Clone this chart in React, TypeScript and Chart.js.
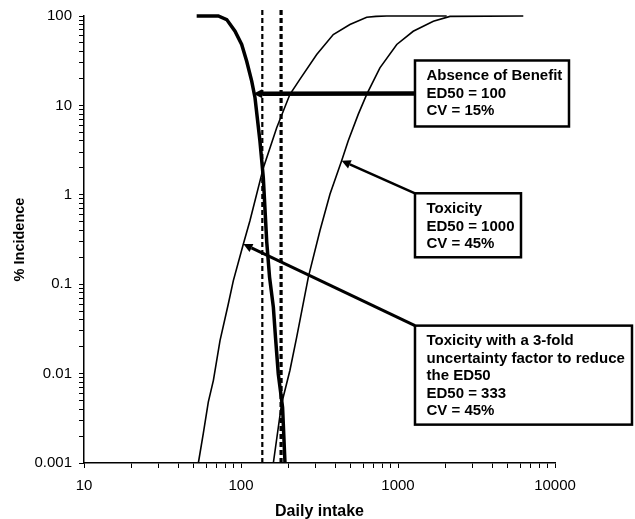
import React, { useEffect, useRef } from 'react';
import { Chart, registerables } from 'chart.js';

Chart.register(...registerables);

// Absence of Benefit (ED50 = 100, CV = 15%)
const benefitX = [52.2, 71.7, 81.1, 91.6, 101, 108.7, 117, 122.8, 132, 138.7, 145.8, 152, 160.7, 166, 172.8, 184, 190.6];
const benefitY = [100, 100, 91.2, 67.5, 48.0, 31.2, 18.7, 12.2, 4.0, 1.56, 0.3, 0.12, 0.0555, 0.025, 0.0099, 0.0042, 0.001];

// Toxicity with 3-fold uncertainty factor (ED50 = 333, CV = 45%)
const tox333X = [53.5, 57.5, 61.9, 66.7, 73.5, 83, 89.3, 103.5, 114, 138.7, 168.8, 205, 237.6, 303.5, 387, 494, 632, 725, 847, 2042];
const tox333Y = [0.001, 0.00213, 0.0048, 0.0084, 0.0234, 0.06, 0.109, 0.281, 0.512, 2.0, 5.62, 13.3, 19.7, 37.1, 62, 80.2, 96.7, 99, 100, 100];

// Toxicity (ED50 = 1000, CV = 45%)
const tox1000X = [160.7, 181.5, 205, 226.5, 268.5, 318.5, 369, 437.5, 482, 558, 632, 767, 982, 1250, 1679, 2143, 6281];
const tox1000Y = [0.001, 0.00463, 0.0109, 0.0257, 0.12, 0.398, 1.02, 2.41, 4.03, 7.94, 13.3, 26.3, 48.0, 67.5, 87.3, 99, 100];

// Vertical dashed reference lines (daily intake)
const dashedLineX = [136.7, 180];
const dashedLineSpan = [0.001, 126];

// Axis tick labels
const xTickLabels = [10, 100, 1000, 10000];
const yTickLabels = [0.001, 0.01, 0.1, 1, 10, 100];

// Annotation texts
const benefitLabel = ['Absence of Benefit', 'ED50 = 100', 'CV = 15%'];
const toxLabel = ['Toxicity', 'ED50 = 1000', 'CV = 45%'];
const tox333Label = ['Toxicity with a 3-fold', 'uncertainty factor to reduce', 'the ED50', 'ED50 = 333', 'CV = 45%'];

const FONT = '"Liberation Sans", Arial, Helvetica, sans-serif';

const annotations = [
  { lines: benefitLabel, left: 1283, top: 31.8, width: 154, height: 66, tipX: 119.7, tipY: 13.5, from: 'mid', lineWidth: 4.5 },
  { lines: toxLabel, left: 1283, top: 1.04, width: 106, height: 64, tipX: 437.5, tipY: 2.41, from: 'corner', lineWidth: 2.5 },
  { lines: tox333Label, left: 1283, top: 0.0344, width: 217, height: 99, tipX: 103.5, tipY: 0.281, from: 'corner', lineWidth: 3 },
];

function decadeTicks(labels: number[]) {
  const out: { value: number }[] = [];
  for (let i = 0; i < labels.length - 1; i++) {
    for (let m = 1; m <= 9; m++) out.push({ value: labels[i] * m });
  }
  out.push({ value: labels[labels.length - 1] });
  return out;
}

function isMajor(v: number, labels: number[]) {
  return labels.some((l) => Math.abs(Math.log10(v) - Math.log10(l)) < 1e-9);
}

const annotationPlugin = {
  id: 'boxes',
  afterDatasetsDraw(chart: any) {
    const { ctx } = chart;
    const xs = chart.scales.x;
    const ys = chart.scales.y;
    ctx.save();
    for (const a of annotations) {
      const bx = xs.getPixelForValue(a.left);
      const by = ys.getPixelForValue(a.top);
      const sx = bx;
      const sy = a.from === 'mid' ? by + a.height / 2 : by;
      const tx = xs.getPixelForValue(a.tipX);
      const ty = ys.getPixelForValue(a.tipY);
      const ang = Math.atan2(ty - sy, tx - sx);
      const head = 9;
      const hw = 4.5;
      const ex = tx - Math.cos(ang) * head;
      const ey = ty - Math.sin(ang) * head;
      ctx.strokeStyle = '#000';
      ctx.fillStyle = '#000';
      ctx.lineWidth = a.lineWidth;
      ctx.beginPath();
      ctx.moveTo(sx, sy);
      ctx.lineTo(ex, ey);
      ctx.stroke();
      ctx.beginPath();
      ctx.moveTo(tx, ty);
      ctx.lineTo(ex - Math.sin(ang) * hw, ey + Math.cos(ang) * hw);
      ctx.lineTo(ex + Math.sin(ang) * hw, ey - Math.cos(ang) * hw);
      ctx.closePath();
      ctx.fill();

      ctx.fillStyle = '#fff';
      ctx.fillRect(bx, by, a.width, a.height);
      ctx.lineWidth = 2.5;
      ctx.strokeRect(bx, by, a.width, a.height);
      ctx.fillStyle = '#000';
      ctx.font = `bold 15px ${FONT}`;
      ctx.textBaseline = 'middle';
      ctx.textAlign = 'left';
      a.lines.forEach((t, i) => ctx.fillText(t, bx + 11.5, by + 15.7 + i * 17.5));
    }
    ctx.restore();
  },
};

export default function App() {
  const ref = useRef<HTMLCanvasElement | null>(null);
  useEffect(() => {
    document.body.style.margin = '0';
    const canvas = ref.current;
    if (!canvas) return;
    const toPts = (xs: number[], ys: number[]) => xs.map((x, i) => ({ x, y: ys[i] }));
    const chart = new Chart(canvas, {
      type: 'line',
      data: {
        datasets: [
          { label: 'Absence of Benefit', data: toPts(benefitX, benefitY), borderColor: '#000', borderWidth: 3.5, pointRadius: 0, tension: 0, clip: false as any },
          { label: 'Toxicity ED50 333', data: toPts(tox333X, tox333Y), borderColor: '#000', borderWidth: 1.6, pointRadius: 0, tension: 0, clip: false as any },
          { label: 'Toxicity ED50 1000', data: toPts(tox1000X, tox1000Y), borderColor: '#000', borderWidth: 1.6, pointRadius: 0, tension: 0, clip: false as any },
          { label: 'Intake A', data: dashedLineSpan.map((y) => ({ x: dashedLineX[0], y })), borderColor: '#000', borderWidth: 2.2, borderDash: [5, 3], pointRadius: 0, clip: false as any },
          { label: 'Intake B', data: dashedLineSpan.map((y) => ({ x: dashedLineX[1], y })), borderColor: '#000', borderWidth: 3.2, borderDash: [5, 3], pointRadius: 0, clip: false as any },
        ],
      },
      options: {
        animation: false,
        responsive: false,
        maintainAspectRatio: false,
        devicePixelRatio: 1,
        layout: { padding: { top: 15, right: 80, left: 0, bottom: 0 } },
        plugins: { legend: { display: false }, tooltip: { enabled: false } },
        scales: {
          x: {
            type: 'logarithmic',
            min: 10,
            max: 10000,
            afterBuildTicks: (s: any) => { s.ticks = decadeTicks(xTickLabels); },
            afterFit: (s: any) => { s.height = 56; },
            grid: { display: true, drawOnChartArea: false, drawTicks: true, tickLength: 5, color: '#000', lineWidth: 1 },
            border: { display: true, color: '#000', width: 1.5 },
            ticks: {
              autoSkip: false,
              maxRotation: 0,
              padding: 9,
              color: '#000',
              font: { family: FONT, size: 15 },
              callback: (v: any) => (isMajor(Number(v), xTickLabels) ? String(Number(v)) : ''),
            },
            title: { display: true, text: 'Daily intake', color: '#000', font: { family: FONT, size: 16, weight: 'bold', lineHeight: 1 }, padding: { top: 0, bottom: -1 } },
          },
          y: {
            type: 'logarithmic',
            min: 0.001,
            max: 100,
            afterBuildTicks: (s: any) => { s.ticks = decadeTicks(yTickLabels); },
            afterFit: (s: any) => { s.width = 84; },
            grid: { display: true, drawOnChartArea: false, drawTicks: true, tickLength: 5, color: '#000', lineWidth: 1 },
            border: { display: true, color: '#000', width: 1.5 },
            ticks: {
              autoSkip: false,
              padding: 7,
              color: '#000',
              font: { family: FONT, size: 15 },
              callback: (v: any) => (isMajor(Number(v), yTickLabels) ? String(Number(v)) : ''),
            },
            title: { display: true, text: '% Incidence', color: '#000', font: { family: FONT, size: 14.5, weight: 'bold', lineHeight: 1.2 }, padding: { top: 11, bottom: 0 } },
          },
        },
      },
      plugins: [annotationPlugin],
    } as any);
    return () => chart.destroy();
  }, []);
  return (
    <div style={{ width: 635, height: 519 }}>
      <canvas ref={ref} width={635} height={519} style={{ display: 'block' }} />
    </div>
  );
}
